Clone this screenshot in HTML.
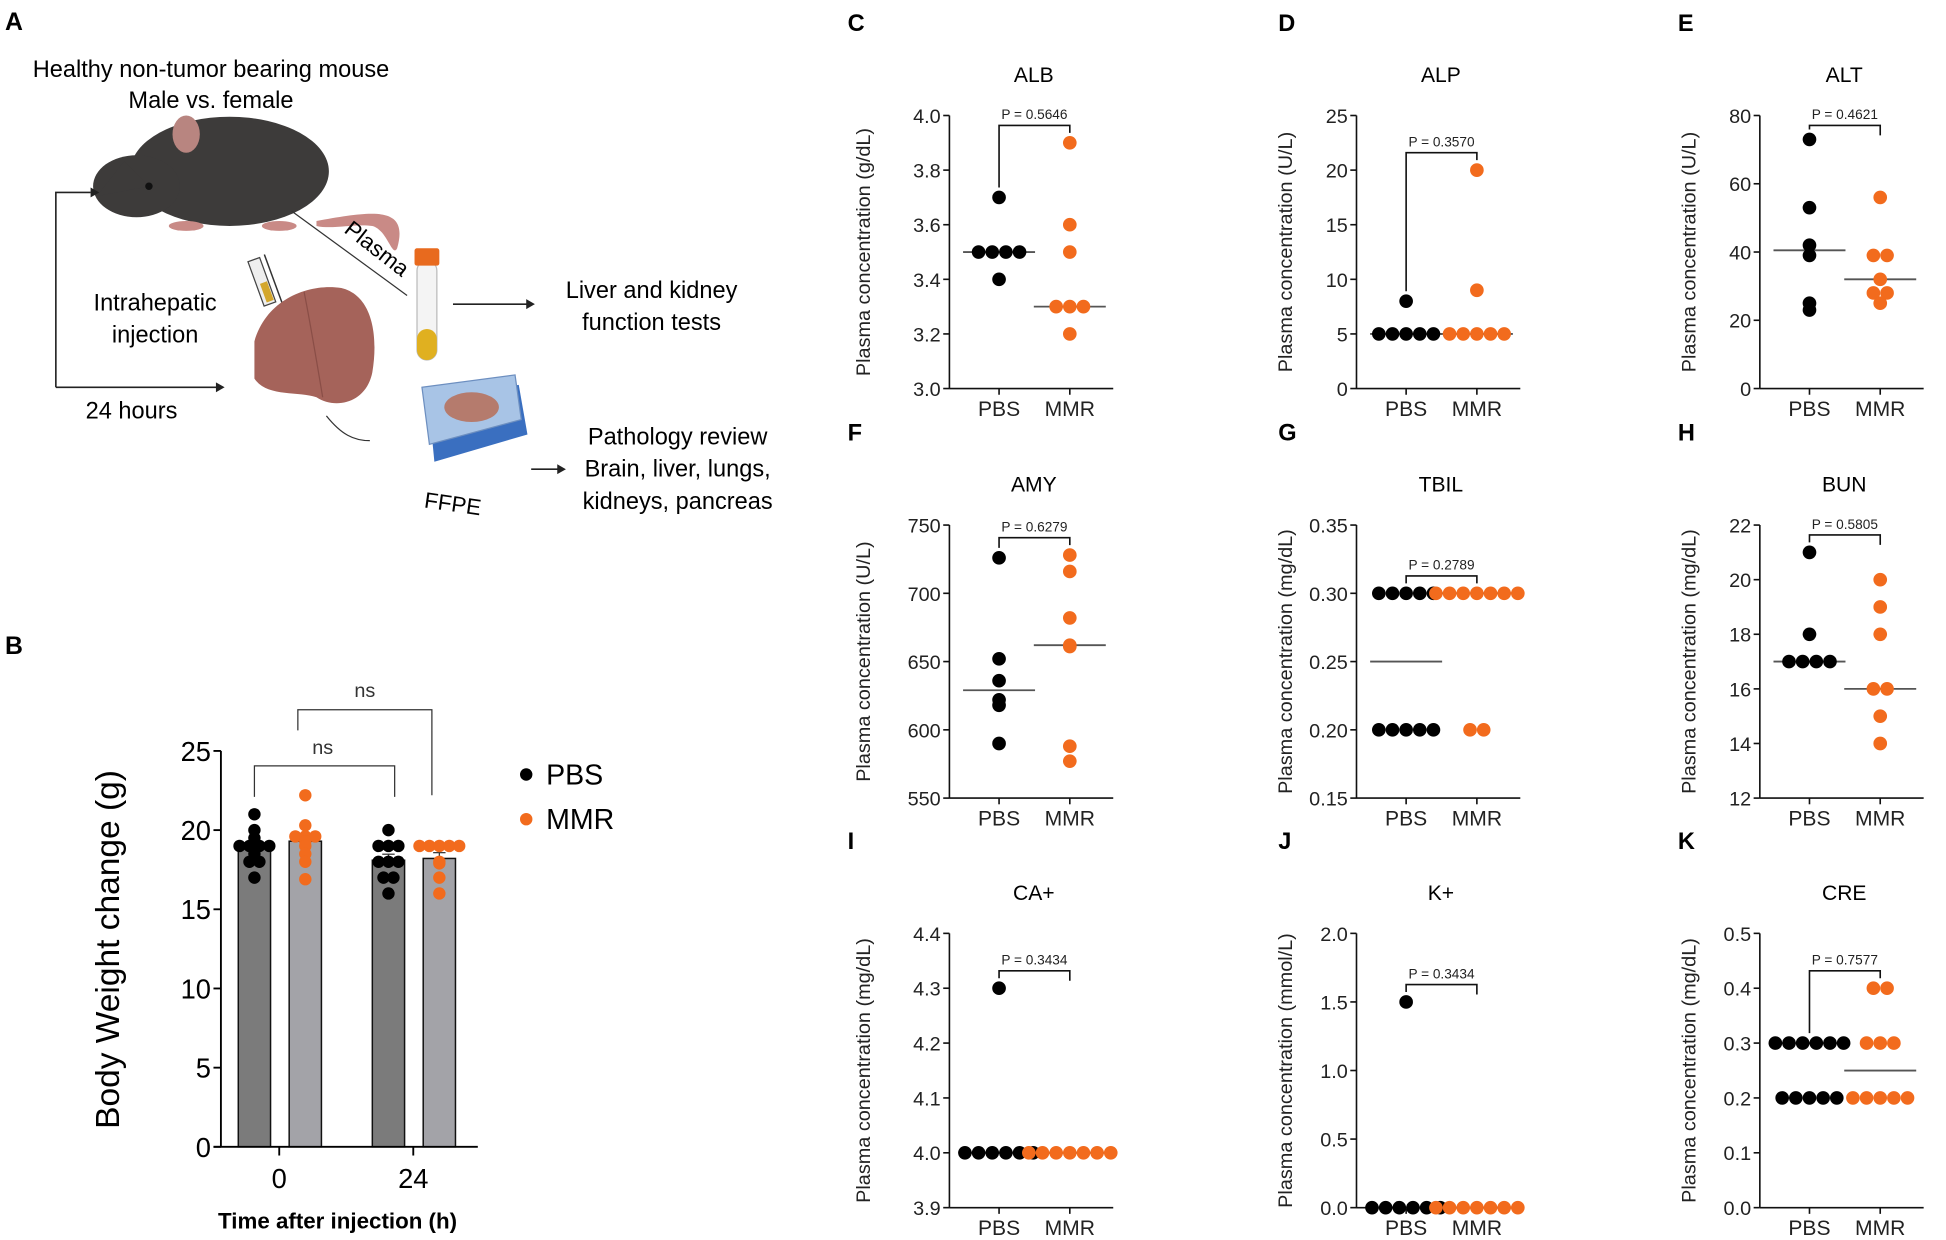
<!DOCTYPE html>
<html><head><meta charset="utf-8"><style>
html,body{margin:0;padding:0;background:#fff;}
svg{display:block;font-family:"Liberation Sans",Arial,sans-serif;}
</style></head><body>
<svg id="fig" width="1946" height="1240" viewBox="0 0 1568 999" xmlns="http://www.w3.org/2000/svg">
<g id="panelA">
  <text x="4" y="24" font-size="20" font-weight="bold">A</text>
  <text x="170" y="62" font-size="19" text-anchor="middle">Healthy non-tumor bearing mouse</text>
  <text x="170" y="87" font-size="19" text-anchor="middle">Male vs. female</text>
  <g>
    <path d="M255,178 C300,170 330,165 320,200 C316,208 312,185 300,182 C285,180 268,185 255,182 Z" fill="#c98a86"/>
    <ellipse cx="185" cy="138" rx="80" ry="44" fill="#3d3b3a"/>
    <ellipse cx="110" cy="150" rx="35" ry="25" fill="#3d3b3a"/>
    <path d="M78,158 L100,130 L120,150 Z" fill="#3d3b3a"/>
    <ellipse cx="150" cy="108" rx="11" ry="15" fill="#b88580"/>
    <circle cx="120" cy="150" r="3" fill="#111"/>
    <ellipse cx="150" cy="182" rx="14" ry="4" fill="#c98a86"/>
    <ellipse cx="225" cy="182" rx="14" ry="4" fill="#c98a86"/>
  </g>
  <path d="M45,312 L45,155 L73,155" fill="none" stroke="#222" stroke-width="1.3"/>
  <path d="M73,151 L80,155 L73,159 Z" fill="#222"/>
  <path d="M45,312 L175,312" stroke="#222" stroke-width="1.3"/>
  <path d="M174,308 L181,312 L174,316 Z" fill="#222"/>
  <text x="106" y="337" font-size="19" text-anchor="middle">24 hours</text>
  <text x="125" y="250" font-size="19" text-anchor="middle">Intrahepatic</text>
  <text x="125" y="276" font-size="19" text-anchor="middle">injection</text>
  <g>
    <line x1="213" y1="205" x2="235" y2="265" stroke="#333" stroke-width="1.2"/>
    <rect x="206" y="208" width="10" height="38" fill="#eee" stroke="#444" transform="rotate(-20 211 227)"/>
    <rect x="209" y="228" width="6" height="16" fill="#d4a72c" transform="rotate(-20 211 227)"/>
  </g>
  <g>
    <path d="M205,275 C215,240 250,228 275,232 C300,238 305,270 300,300 C295,325 270,330 255,320 C240,315 215,320 205,305 Z" fill="#a5635a"/>
    <path d="M245,235 C250,260 255,290 260,320" stroke="#8a4e47" fill="none"/>
  </g>
  <line x1="235" y1="170" x2="328" y2="238" stroke="#333" stroke-width="1"/>
  <text x="300" y="205" font-size="18" transform="rotate(38 300 205)" text-anchor="middle">Plasma</text>
  <g>
    <rect x="336" y="210" width="16" height="80" rx="8" fill="#f4f4f4" stroke="#bbb"/>
    <rect x="336" y="265" width="16" height="25" rx="8" fill="#e0b020"/>
    <rect x="334" y="200" width="20" height="14" rx="2" fill="#e86a1e"/>
  </g>
  <line x1="365" y1="245" x2="425" y2="245" stroke="#222" stroke-width="1.3"/>
  <path d="M424,241 L431,245 L424,249 Z" fill="#222"/>
  <text x="525" y="240" font-size="19" text-anchor="middle">Liver and kidney</text>
  <text x="525" y="266" font-size="19" text-anchor="middle">function tests</text>
  <path d="M263,335 C275,350 285,355 298,355" fill="none" stroke="#333"/>
  <g>
    <path d="M345,320 L418,310 L425,350 L350,372 Z" fill="#3a6fc0"/>
    <path d="M340,312 L415,302 L420,338 L346,358 Z" fill="#a8c4e6" stroke="#6d8fc0"/>
    <ellipse cx="380" cy="328" rx="22" ry="12" fill="#b57b6d"/>
  </g>
  <text x="365" y="412" font-size="18" text-anchor="middle" transform="rotate(8 365 405)">FFPE</text>
  <line x1="428" y1="378" x2="450" y2="378" stroke="#222" stroke-width="1.3"/>
  <path d="M449,374 L456,378 L449,382 Z" fill="#222"/>
  <text x="546" y="358" font-size="19" text-anchor="middle">Pathology review</text>
  <text x="546" y="384" font-size="19" text-anchor="middle">Brain, liver, lungs,</text>
  <text x="546" y="410" font-size="19" text-anchor="middle">kidneys, pancreas</text>
</g>
<g id="panelB"></g>
<g id="panels"></g>
</svg>
<script>
// ---- Panel B data ----
const bGroups = ["0", "24"];
const bPBS0 = [21, 20, 19.5, 19, 19, 19, 18.5, 18, 18, 17, 19];
const bMMR0 = [22.2, 20.3, 19.6, 19.6, 19.6, 19.3, 19, 18.5, 18, 16.9];
const bPBS24 = [20, 19, 19, 19, 18, 18, 18, 17, 17, 16];
const bMMR24 = [19, 19, 19, 19, 19, 18, 17.9, 17, 16];
const bTicks = [0, 5, 10, 15, 20, 25];

// ---- Panels C-K data ----
const panelNames = ["C","D","E","F","G","H","I","J","K"];
const panelTitles = ["ALB","ALP","ALT","AMY","TBIL","BUN","CA+","K+","CRE"];
const panelUnits = ["(g/dL)","(U/L)","(U/L)","(U/L)","(mg/dL)","(mg/dL)","(mg/dL)","(mmol/L)","(mg/dL)"];
const panelP = ["0.5646","0.3570","0.4621","0.6279","0.2789","0.5805","0.3434","0.3434","0.7577"];
const panelTicks = [
  [3.0,3.2,3.4,3.6,3.8,4.0],
  [0,5,10,15,20,25],
  [0,20,40,60,80],
  [550,600,650,700,750],
  [0.15,0.20,0.25,0.30,0.35],
  [12,14,16,18,20,22],
  [3.9,4.0,4.1,4.2,4.3,4.4],
  [0,0.5,1.0,1.5,2.0],
  [0,0.1,0.2,0.3,0.4,0.5]
];
const tickDecimals = [1,0,0,0,2,0,1,1,1];
const pbsValues = [
  [3.7,3.5,3.5,3.5,3.5,3.4],
  [8,5,5,5,5,5],
  [73,53,42,39,25,23],
  [726,652,636,622,618,590],
  [0.3,0.3,0.3,0.3,0.3,0.2,0.2,0.2,0.2,0.2],
  [21,18,17,17,17,17],
  [4.3,4.0,4.0,4.0,4.0,4.0,4.0],
  [1.5,0,0,0,0,0,0],
  [0.3,0.3,0.3,0.3,0.3,0.3,0.2,0.2,0.2,0.2,0.2]
];
const mmrValues = [
  [3.9,3.6,3.5,3.3,3.3,3.3,3.2],
  [20,9,5,5,5,5,5],
  [56,39,39,32,28,28,25],
  [728,716,682,662,661,588,577],
  [0.3,0.3,0.3,0.3,0.3,0.3,0.3,0.2,0.2],
  [20,19,18,16,16,15,14],
  [4.0,4.0,4.0,4.0,4.0,4.0,4.0],
  [0,0,0,0,0,0,0],
  [0.4,0.4,0.3,0.3,0.3,0.2,0.2,0.2,0.2,0.2]
];

const NS = "http://www.w3.org/2000/svg";
function mk(parent, tag, attrs, text) {
  const e = document.createElementNS(NS, tag);
  for (const k in attrs) e.setAttribute(k, attrs[k]);
  if (text !== undefined) e.textContent = text;
  parent.appendChild(e);
  return e;
}
const ORANGE = "#f26b1d";

// ---------- Panel B ----------
(function(){
  const g = document.getElementById("panelB");
  const lbl = mk(g, "text", {x:4, y:527, "font-size":20, "font-weight":"bold"}, "B");
  
  
  const x0 = 178, yBase = 924, yTop = 605, vMax = 25;
  const y = v => yBase - v / vMax * (yBase - yTop);
  const groupX = [225, 333];
  const off = [-20, 21];
  const barW = 26;
  const sets = [[bPBS0, bMMR0], [bPBS24, bMMR24]];
  const fills = ["#7b7b7b", "#a3a3a8"];
  const mean = a => a.reduce((s,v)=>s+v,0)/a.length;
  for (let gi = 0; gi < bGroups.length; gi++) {
    for (let si = 0; si < 2; si++) {
      const arr = sets[gi][si];
      const cx = groupX[gi] + off[si];
      const m = mean(arr);
      const bar = mk(g, "rect", {x: cx - barW/2, y: y(m), width: barW, height: yBase - y(m), fill: fills[si], stroke: "#111", "stroke-width": 1.2});
      
      
      // error bar
      const sd = Math.sqrt(arr.reduce((s,v)=>s+(v-m)*(v-m),0)/(arr.length-1)) / Math.sqrt(arr.length);
      mk(g, "line", {x1: cx, x2: cx, y1: y(m+sd), y2: y(m), stroke: "#333", "stroke-width": 1});
      mk(g, "line", {x1: cx-5, x2: cx+5, y1: y(m+sd), y2: y(m+sd), stroke: "#333", "stroke-width": 1});
      // dots
      const counts = {};
      arr.forEach(v => { counts[v] = (counts[v]||0) + 1; });
      const seen = {};
      arr.forEach(v => {
        const n = counts[v], k = (seen[v] = (seen[v]||0) + 1) - 1;
        const dx = (k - (n-1)/2) * 8;
        const d = mk(g, "circle", {cx: cx + dx, cy: y(v), r: 5, fill: si ? ORANGE : "#000"});
        
        
      });
    }
    const xt = mk(g, "text", {x: groupX[gi], y: yBase + 33, "font-size": 22, "text-anchor": "middle"}, bGroups[gi]);
    
    
    mk(g, "line", {x1: groupX[gi], x2: groupX[gi], y1: yBase, y2: yBase + 7, stroke: "#000", "stroke-width": 1.5});
  }
  mk(g, "line", {x1: x0, x2: x0, y1: yTop, y2: yBase, stroke: "#000", "stroke-width": 1.5});
  mk(g, "line", {x1: x0 - 6, x2: 385, y1: yBase, y2: yBase, stroke: "#000", "stroke-width": 1.5});
  bTicks.forEach(t => {
    mk(g, "line", {x1: x0 - 6, x2: x0, y1: y(t), y2: y(t), stroke: "#000", "stroke-width": 1.5});
    const tl = mk(g, "text", {x: x0 - 8, y: y(t) + 8, "font-size": 22, "text-anchor": "end"}, String(t));
    
    
  });
  const yt = mk(g, "text", {x: 96, y: 765, "font-size": 27, "text-anchor": "middle", transform: "rotate(-90 96 765)"}, "Body Weight change (g)");
  
  
  const xtt = mk(g, "text", {x: 272, y: 990, "font-size": 18, "font-weight": "bold", "text-anchor": "middle"}, "Time after injection (h)");
  
  
  // significance brackets
  mk(g, "path", {d: `M205,${y(22.1)} L205,${y(24.06)} L318,${y(24.06)} L318,${y(22.1)}`, fill: "none", stroke: "#333", "stroke-width": 1});
  const ns1 = mk(g, "text", {x: 260, y: y(25.2) + 5, "font-size": 16, "text-anchor": "middle", fill: "#333"}, "ns");
  
  
  mk(g, "path", {d: `M240,${y(26.3)} L240,${y(27.6)} L348,${y(27.6)} L348,${y(22.2)}`, fill: "none", stroke: "#333", "stroke-width": 1});
  const ns2 = mk(g, "text", {x: 294, y: y(28.8) + 5, "font-size": 16, "text-anchor": "middle", fill: "#333"}, "ns");
  
  
  // legend
  const lg = mk(g, "g", {});
  
  
  mk(lg, "circle", {cx: 424, cy: 624, r: 5, fill: "#000"});
  const l1 = mk(lg, "text", {x: 440, y: 632, "font-size": 23}, "PBS");
  
  
  mk(lg, "circle", {cx: 424, cy: 660, r: 5, fill: ORANGE});
  const l2 = mk(lg, "text", {x: 440, y: 668, "font-size": 23}, "MMR");
  
  
})();

// ---------- Panels C-K ----------
(function(){
  const root = document.getElementById("panels");
  const colAxisX = [765, 1093, 1418];
  const colLabelX = [683, 1030, 1352];
  const colTitleX = [695, 1035, 1360];
  const rowTop = [93, 423, 752];
  const rowBot = [313, 643, 973];
  for (let i = 0; i < 9; i++) {
    const c = i % 3, r = Math.floor(i / 3);
    const g = mk(root, "g", {});
    
    
    const ax = colAxisX[c], yT = rowTop[r], yB = rowBot[r];
    const ticks = panelTicks[i];
    const vMin = ticks[0], vMax = ticks[ticks.length-1];
    const y = v => yB - (v - vMin) / (vMax - vMin) * (yB - yT);
    const xP = ax + 40, xM = ax + 97;
    const pl = mk(g, "text", {x: colLabelX[c], y: yT - 68, "font-size": 19, "font-weight": "bold"}, panelNames[i]);
    
    
    const tt = mk(g, "text", {x: ax + 68, y: yT - 27, "font-size": 17, "text-anchor": "middle"}, panelTitles[i]);
    
    
    const yl = colTitleX[c], ym = (yT + yB) / 2;
    const yat = mk(g, "text", {x: yl, y: ym + 6, "font-size": 16, "text-anchor": "middle", fill: "#222", transform: `rotate(-90 ${yl} ${ym})`}, "Plasma concentration " + panelUnits[i]);
    
    
    mk(g, "line", {x1: ax, x2: ax, y1: yT, y2: yB, stroke: "#111", "stroke-width": 1.3});
    mk(g, "line", {x1: ax, x2: ax + 132, y1: yB, y2: yB, stroke: "#111", "stroke-width": 1.3});
    ticks.forEach(t => {
      mk(g, "line", {x1: ax - 5, x2: ax, y1: y(t), y2: y(t), stroke: "#111", "stroke-width": 1.3});
      const tl = mk(g, "text", {x: ax - 7, y: y(t) + 6, "font-size": 16, "text-anchor": "end", fill: "#222"}, t.toFixed(tickDecimals[i]));
      
      
    });
    [[xP, "PBS"], [xM, "MMR"]].forEach(([xx, lab]) => {
      mk(g, "line", {x1: xx, x2: xx, y1: yB, y2: yB + 5, stroke: "#111", "stroke-width": 1.3});
      const xl = mk(g, "text", {x: xx, y: yB + 22, "font-size": 17, "text-anchor": "middle", fill: "#222"}, lab);
      
      
    });
    const med = a => { const s = [...a].sort((p,q)=>p-q); const n = s.length; return n % 2 ? s[(n-1)/2] : (s[n/2-1] + s[n/2]) / 2; };
    [[pbsValues[i], xP, "#000", "pbs"], [mmrValues[i], xM, ORANGE, "mmr"]].forEach(([arr, cx, col, nm]) => {
      const mv = med(arr);
      const ml = mk(g, "line", {x1: cx - 29, x2: cx + 29, y1: y(mv), y2: y(mv), stroke: "#555", "stroke-width": 1.5});
      
      
      const counts = {};
      arr.forEach(v => { counts[v] = (counts[v]||0) + 1; });
      const seen = {};
      arr.forEach(v => {
        const n = counts[v], k = (seen[v] = (seen[v]||0) + 1) - 1;
        const dx = (k - (n-1)/2) * 11;
        const d = mk(g, "circle", {cx: cx + dx, cy: y(v), r: 5.5, fill: col});
        
        
      });
    });
    // bracket
    const pMax = Math.max(...pbsValues[i]), mMax = Math.max(...mmrValues[i]);
    const top = Math.min(y(pMax), y(mMax)) - 14;
    const by = Math.max(yT + 8, Math.min(top, yT + 45));
    mk(g, "path", {d: `M${xP},${y(pMax) - 8} L${xP},${by} L${xM},${by} L${xM},${Math.min(y(mMax) - 8, by + 8)}`, fill: "none", stroke: "#111", "stroke-width": 1.3});
    const pt = mk(g, "text", {x: (xP + xM) / 2, y: by - 5, "font-size": 11, "text-anchor": "middle", fill: "#222"}, "P = " + panelP[i]);
    
    
  }
})();
</script>
</body></html>
